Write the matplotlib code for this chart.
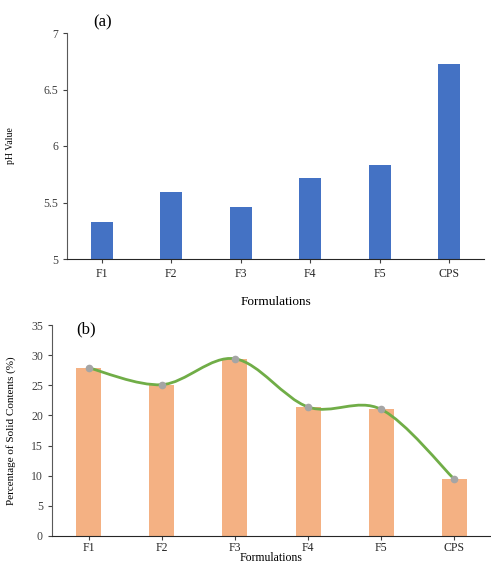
import numpy as np
import matplotlib
matplotlib.use('Agg')
from matplotlib import pyplot as plt
from matplotlib.path import Path
from matplotlib.patches import PathPatch

plt.rcParams['font.family'] = ['Liberation Serif', 'DejaVu Serif']

categories = ['F1', 'F2', 'F3', 'F4', 'F5', 'CPS']
ph_values = [5.33, 5.59, 5.46, 5.72, 5.83, 6.73]
solid_contents = [27.9, 25.1, 29.4, 21.4, 21.0, 9.4]

BLUE = '#4472C4'
ORANGE = '#F4B183'
GREEN = '#70AD47'
GREY = '#A5A5A5'

W, H = 491, 565
fig = plt.figure(figsize=(W / 100, H / 100), dpi=100)

def px_axes(left, top, right, bottom):
    return fig.add_axes([left / W, 1 - bottom / H, (right - left) / W, (bottom - top) / H])

def style(ax):
    for side in ('top', 'right'):
        ax.spines[side].set_visible(False)
    ax.spines['left'].set_color('#595959')
    ax.spines['bottom'].set_color('#262626')
    ax.tick_params(axis='both', labelsize=8.5, length=3, width=0.8, colors='#404040')
    ax.tick_params(axis='x', labelcolor='#262626')

x = np.arange(len(categories))

#
# (a) pH
#

ax1 = px_axes(67, 33, 484, 259)
ax1.bar(x, ph_values, width=0.32, color=BLUE, zorder=2)
ax1.set_xlim(-0.5, len(categories) - 0.5)
ax1.set_ylim(5, 7)
ax1.set_yticks([5, 5.5, 6, 6.5, 7])
ax1.set_yticklabels(['5', '5.5', '6', '6.5', '7'])
ax1.set_xticks(x)
ax1.set_xticklabels(categories)
style(ax1)
ax1.set_ylabel('pH Value', fontsize=7)
ax1.yaxis.set_label_coords(-0.125, 0.5)
ax1.set_xlabel('Formulations', fontsize=9.5)
ax1.xaxis.set_label_coords(0.5, -0.165)
ax1.text(0.085, 1.045, '(a)', transform=ax1.transAxes, fontsize=12, ha='center', va='center')

#
# (b) solid contents
#

ax2 = px_axes(52, 325, 491, 536)
ax2.bar(x, solid_contents, width=0.34, color=ORANGE, zorder=2)

# smoothed line, like a spreadsheet "smoothed line" series
pts = np.column_stack([x, solid_contents]).astype(float)
verts = [tuple(pts[0])]
codes = [Path.MOVETO]
for i in range(len(pts) - 1):
    p0 = pts[max(i - 1, 0)]
    p1 = pts[i]
    p2 = pts[i + 1]
    p3 = pts[min(i + 2, len(pts) - 1)]
    c1 = p1 + (p2 - p0) / 6
    c2 = p2 - (p3 - p1) / 6
    verts += [tuple(c1), tuple(c2), tuple(p2)]
    codes += [Path.CURVE4] * 3
ax2.add_patch(PathPatch(Path(verts, codes), facecolor='none', edgecolor=GREEN, lw=2, zorder=3))
ax2.plot(x, solid_contents, 'o', color=GREY, ms=4.5, zorder=4)

ax2.set_xlim(-0.5, len(categories) - 0.5)
ax2.set_ylim(0, 35)
ax2.set_yticks(range(0, 36, 5))
ax2.set_xticks(x)
ax2.set_xticklabels(categories)
style(ax2)
ax2.tick_params(axis='x', pad=1.5)
ax2.set_ylabel('Percentage of Solid Contents (%)', fontsize=8)
ax2.yaxis.set_label_coords(-0.082, 0.5)
ax2.set_xlabel('Formulations', fontsize=8.5, va='bottom')
ax2.xaxis.set_label_coords(0.5, -0.131)
ax2.text(0.077, 0.98, '(b)', transform=ax2.transAxes, fontsize=12, ha='center', va='center')

fig.savefig('out.png', dpi=100)
